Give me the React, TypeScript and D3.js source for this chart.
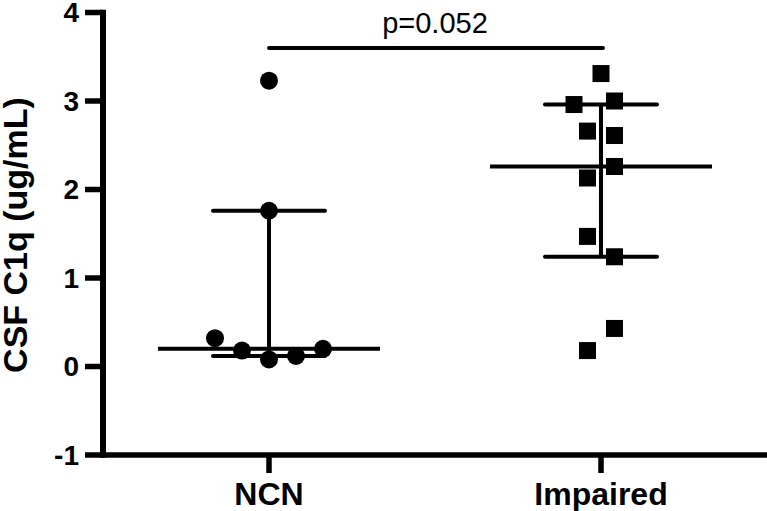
import React from "react";
import * as d3 from "d3";

const groups = ["NCN", "Impaired"];
const ncnValues = [3.23, 1.76, 0.32, 0.18, 0.08, 0.12, 0.2];
const ncnSlots = [0, 0, -4, -2, 0, 2, 4];
const impairedValues = [3.31, 3.0, 2.96, 2.66, 2.61, 2.26, 2.13, 1.47, 1.24, 0.43, 0.18];
const impairedSlots = [0, 1, -2, -1, 1, 1, -1, -1, 1, 1, -1];
const yTicks = [-1, 0, 1, 2, 3, 4];
const yTitle = "CSF C1q (ug/mL)";
const pLabel = "p=0.052";

const W = 767;
const H = 511;
const FONT = "Arial, 'Liberation Sans', Helvetica, sans-serif";

// Prism-style quantile: position (n+1)p
function prismQuantile(vals: number[], p: number) {
  const s = [...vals].sort((a, b) => a - b);
  const pos = (s.length + 1) * p;
  const lo = Math.floor(pos);
  const frac = pos - lo;
  const a = s[Math.max(0, Math.min(s.length - 1, lo - 1))];
  const b = s[Math.max(0, Math.min(s.length - 1, lo))];
  return a + (b - a) * frac;
}

export default function App() {
  const x = d3.scalePoint<string>().domain(groups).range([103, 767]).padding(0.5);
  const y = d3.scaleLinear().domain([-1, 4]).range([455, 12.5]);
  const slotW = 13.5;
  const axisX = 103;
  const axisY = y(-1);

  const series = [
    { name: "NCN", values: ncnValues, slots: ncnSlots, shape: "circle" },
    { name: "Impaired", values: impairedValues, slots: impairedSlots, shape: "square" },
  ];

  const xN = x("NCN")!;
  const xI = x("Impaired")!;

  return (
    <svg
      width={W}
      height={H}
      style={{ position: "absolute", left: 0, top: 0, background: "#fff" }}
      fontFamily={FONT}
    >
      <rect x={0} y={0} width={W} height={H} fill="#fff" />
      {/* Y axis */}
      <line x1={axisX} x2={axisX} y1={y(4) - 2.75} y2={axisY + 2.75} stroke="#000" strokeWidth={6} />
      {yTicks.map((t) => (
        <g key={t}>
          <line x1={85} x2={axisX} y1={y(t)} y2={y(t)} stroke="#000" strokeWidth={5.5} />
          <text
            x={79}
            y={y(t)}
            textAnchor="end"
            dominantBaseline="central"
            fontSize={28}
            fontWeight="bold"
          >
            {t}
          </text>
        </g>
      ))}
      <text
        transform={`translate(27, ${235}) rotate(-90)`}
        textAnchor="middle"
        fontSize={34}
        fontWeight="bold"
      >
        {yTitle}
      </text>
      {/* X axis */}
      <line x1={axisX - 3} x2={W} y1={axisY} y2={axisY} stroke="#000" strokeWidth={5.5} />
      {groups.map((g) => (
        <g key={g}>
          <line x1={x(g)!} x2={x(g)!} y1={axisY} y2={473} stroke="#000" strokeWidth={5.5} />
          <text x={x(g)!} y={505} textAnchor="middle" fontSize={32} fontWeight="bold">
            {g}
          </text>
        </g>
      ))}
      {/* Significance bar */}
      <line x1={xN} x2={xI + 2} y1={48} y2={48} stroke="#000" strokeWidth={4} strokeLinecap="round" />
      <text x={(xN + xI) / 2} y={33} textAnchor="middle" fontSize={29}>
        {pLabel}
      </text>
      {/* Series */}
      {series.map((s) => {
        const cx = x(s.name)!;
        const med = prismQuantile(s.values, 0.5);
        const q1 = prismQuantile(s.values, 0.25);
        const q3 = prismQuantile(s.values, 0.75);
        return (
          <g key={s.name}>
            <line x1={cx} x2={cx} y1={y(q1)} y2={y(q3)} stroke="#000" strokeWidth={4} />
            <line x1={cx - 56} x2={cx + 56} y1={y(q1)} y2={y(q1)} stroke="#000" strokeWidth={4} strokeLinecap="round" />
            <line x1={cx - 56} x2={cx + 56} y1={y(q3)} y2={y(q3)} stroke="#000" strokeWidth={4} strokeLinecap="round" />
            <line x1={cx - 111} x2={cx + 111} y1={y(med)} y2={y(med)} stroke="#000" strokeWidth={4} />
            {s.values.map((v, i) => {
              const px = cx + s.slots[i] * slotW;
              const py = y(v);
              return s.shape === "circle" ? (
                <circle key={i} cx={px} cy={py} r={9} fill="#000" />
              ) : (
                <rect key={i} x={px - 8.5} y={py - 8.5} width={17} height={17} fill="#000" />
              );
            })}
          </g>
        );
      })}
    </svg>
  );
}
